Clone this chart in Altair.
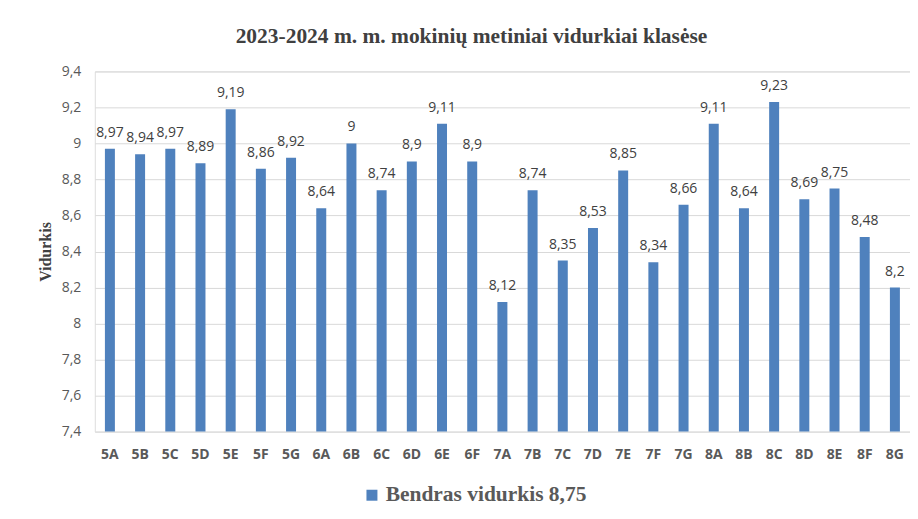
import altair as alt
import pandas as pd

classes = ["5A", "5B", "5C", "5D", "5E", "5F", "5G", "6A", "6B", "6C", "6D", "6E", "6F",
           "7A", "7B", "7C", "7D", "7E", "7F", "7G", "8A", "8B", "8C", "8D", "8E", "8F", "8G"]
values = [8.97, 8.94, 8.97, 8.89, 9.19, 8.86, 8.92, 8.64, 9.00, 8.74, 8.90, 9.11, 8.90,
          8.12, 8.74, 8.35, 8.53, 8.85, 8.34, 8.66, 9.11, 8.64, 9.23, 8.69, 8.75, 8.48, 8.20]
series_name = "Bendras vidurkis 8,75"
y_ticks = [7.4, 7.6, 7.8, 8.0, 8.2, 8.4, 8.6, 8.8, 9.0, 9.2, 9.4]

df = pd.DataFrame({"klase": classes, "vidurkis": values, "serija": series_name})

x_enc = alt.X("klase:N", sort=classes, title=None,
              scale=alt.Scale(paddingInner=0.66, paddingOuter=0.33),
              axis=alt.Axis(labelAngle=0, labelFont="Open Sans", labelFontWeight="bold",
                            labelFontSize=14, labelColor="#595959", ticks=False,
                            domain=False, labelPadding=16))
y_enc = alt.Y("vidurkis:Q", title="Vidurkis",
              scale=alt.Scale(domain=[7.4, 9.4], zero=False, clamp=True, nice=False),
              axis=alt.Axis(values=y_ticks, tickCount=len(y_ticks), labelOverlap=False,
                            labelExpr="replace(format(datum.value, '.1~f'), '.', ',')",
                            labelFont="Open Sans", labelFontSize=14, labelColor="#595959",
                            ticks=False, domain=False, labelPadding=14,
                            gridColor="#d9d9d9", gridWidth=1,
                            titleFont="Liberation Serif", titleFontWeight="bold",
                            titleFontSize=16, titleColor="#404040", titlePadding=8))

bars = alt.Chart(df).mark_bar(size=10).encode(
    x=x_enc,
    y=y_enc,
    color=alt.Color("serija:N", scale=alt.Scale(range=["#4f81bd"]),
                    legend=alt.Legend(title=None, orient="none", legendX=267, legendY=414,
                                      symbolType="square", symbolSize=121, labelOffset=3,
                                      labelFont="Liberation Serif", labelFontWeight="bold",
                                      labelFontSize=21.5, labelColor="#595959",
                                      labelLimit=400)),
)

labels = alt.Chart(df).transform_calculate(
    lab="replace(format(datum.vidurkis, '.2~f'), '.', ',')"
).mark_text(dy=-16, font="Open Sans", fontSize=14, color="#404040").encode(
    x=alt.X("klase:N", sort=classes),
    y=alt.Y("vidurkis:Q"),
    text="lab:N",
)

chart = (bars + labels).properties(
    width=817, height=361,
    title=alt.TitleParams("2023-2024 m. m. mokinių metiniai vidurkiai klasėse",
                          font="Liberation Serif", fontWeight="bold", fontSize=21.5,
                          color="#404040", anchor="middle", dx=-31, offset=17),
    autosize=alt.AutoSizeParams(type="none"),
    padding={"left": 87, "top": 63, "right": 0, "bottom": 79},
).configure_view(stroke=None).configure(background="white")

chart.save("out.html", embed_options={"renderer": "svg", "actions": False})
